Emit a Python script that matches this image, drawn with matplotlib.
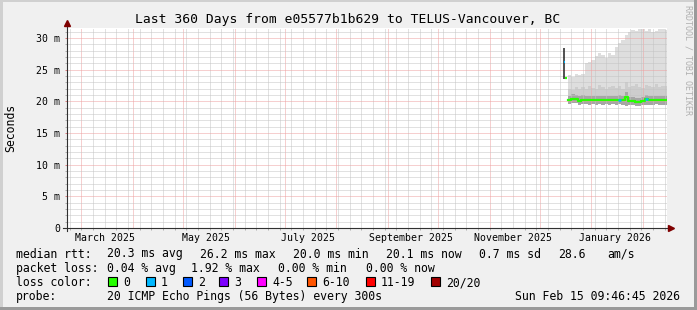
import numpy as np
import pandas as pd
import matplotlib
matplotlib.use("Agg")
import matplotlib.pyplot as plt
from matplotlib.patches import Rectangle
from matplotlib.ticker import MultipleLocator

W, H = 697, 310
MONO = "DejaVu Sans Mono"

# ---- data ----
end_time = np.datetime64("2026-02-15T09:46:45")
start_time = end_time - np.timedelta64(360, "D")

sample_dates = ["2025-12-18", "2025-12-20", "2025-12-22", "2025-12-24", "2025-12-26",
                "2025-12-28", "2025-12-30", "2026-01-01", "2026-01-03", "2026-01-05",
                "2026-01-07", "2026-01-09", "2026-01-11", "2026-01-13", "2026-01-15",
                "2026-01-17", "2026-01-19", "2026-01-21", "2026-01-23", "2026-01-25",
                "2026-01-27", "2026-01-29", "2026-01-31", "2026-02-02", "2026-02-04",
                "2026-02-06", "2026-02-08", "2026-02-10", "2026-02-12", "2026-02-14"]
# rtt in ms
ping_max = [24.2, 23.8, 24.3, 24.1, 24.4, 26.0, 26.3, 26.5, 27.1, 27.6,
            27.3, 26.8, 27.6, 27.4, 28.6, 29.2, 29.7, 30.5, 31.0, 31.3,
            31.1, 31.4, 31.5, 31.2, 31.5, 30.9, 31.2, 31.5, 31.4, 31.3]
band_hi = [22.0, 21.8, 22.2, 21.9, 22.3, 22.0, 22.4, 22.1, 22.0, 22.6,
           22.2, 22.0, 22.3, 22.5, 22.1, 22.4, 22.0, 23.0, 22.2, 22.4,
           22.8, 22.3, 22.1, 22.6, 22.4, 22.2, 22.7, 22.3, 22.5, 22.4]
core_hi = [20.9, 21.1, 21.0, 20.8, 21.0, 20.9, 20.8, 20.9, 20.8, 20.9,
           20.8, 20.9, 20.8, 20.9, 20.8, 21.0, 20.9, 21.5, 20.7, 20.7,
           20.6, 20.6, 20.7, 21.0, 20.9, 20.8, 20.9, 20.8, 20.9, 20.9]
ping_min = [19.6, 19.7, 19.7, 19.5, 19.6, 19.6, 19.5, 19.6, 19.5, 19.6,
            19.5, 19.6, 19.5, 19.6, 19.5, 19.6, 19.5, 19.2, 19.4, 19.4,
            19.3, 19.3, 19.4, 19.5, 19.5, 19.5, 19.6, 19.5, 19.5, 19.5]
median = [20.2, 20.4, 20.4, 20.1, 20.25, 20.2, 20.15, 20.15, 20.15, 20.15,
          20.15, 20.15, 20.15, 20.15, 20.15, 20.3, 20.2, 20.7, 20.0, 20.0,
          19.95, 19.85, 20.0, 20.35, 20.2, 20.2, 20.2, 20.2, 20.2, 20.2]
loss_class = [0] * 15 + [1] + [0] * 7 + [1] + [0] * 6

# the lone early sample
spike_time = "2025-12-15T20:00"
spike_lo, spike_hi = 23.6, 28.4
spike_med_times = [("2025-12-15T12:00", "2025-12-16T04:00"), ("2025-12-16T04:00", "2025-12-17T06:00")]
spike_medians = [26.3, 23.7]
spike_loss = [1, 0]

loss_labels = ["0", "1", "2", "3", "4-5", "6-10", "11-19", "20/20"]
loss_colors = ["#26ff00", "#00b8ff", "#0059ff", "#7e00ff", "#ff00ff", "#ff5500", "#ff0000", "#a10000"]

y_ticks = [0, 5, 10, 15, 20, 25, 30]
y_labels = ["0", "5 m", "10 m", "15 m", "20 m", "25 m", "30 m"]
month_labels = ["March 2025", "May 2025", "July 2025", "September 2025", "November 2025", "January 2026"]
month_label_dates = ["2025-03-15", "2025-05-15", "2025-07-15", "2025-09-15", "2025-11-15", "2026-01-15"]

legend_rows = [
    [(16, "median rtt:"), (107, "20.3 ms avg"), (200, "26.2 ms max"), (293, "20.0 ms min"),
     (386, "20.1 ms now"), (479, "0.7 ms sd"), (558, "28.6"), (607, "am/s")],
    [(16, "packet loss:"), (107, "0.04 % avg"), (191, "1.92 % max"), (278, "0.00 % min"),
     (366, "0.00 % now")],
    [(16, "loss color:")],
    [(16, "probe:"), (107, "20 ICMP Echo Pings (56 Bytes) every 300s")],
]
legend_baselines = [257.5, 271.8, 286.0, 300.0]
box_x = [108, 146, 183, 219, 257, 307, 366, 431]
stamp = "Sun Feb 15 09:46:45 2026"


def fx(x):
    return x / W


def fy(y):
    return 1 - y / H


fig = plt.figure(figsize=(W / 100, H / 100), dpi=100)
fig.patch.set_facecolor("#f0f0f0")

ax = fig.add_axes([fx(67), fy(228), 600 / W, 200 / H])
ax.set_facecolor("white")
for s in ax.spines.values():
    s.set_visible(False)

t = np.array(sample_dates, dtype="datetime64[m]")
t_edges = np.append(t, end_time.astype("datetime64[m]"))


def ext(v):
    return np.append(v, v[-1])


# smoke
ax.fill_between(t_edges, ext(ping_min), ext(ping_max), step="post", color="#dedede", lw=0, zorder=1)
ax.fill_between(t_edges, ext(ping_min), ext(band_hi), step="post", color="#cdcdcd", lw=0, zorder=1.1)
ax.fill_between(t_edges, ext(ping_min), ext(core_hi), step="post", color="#a6a6a6", lw=0, zorder=1.2)

# median, coloured by loss
ax.step(t_edges, ext(median), where="post", color=loss_colors[0], lw=1.6, zorder=4)
for i, lc in enumerate(loss_class):
    if lc:
        ax.hlines(median[i], t_edges[i], t_edges[i + 1], color=loss_colors[lc], lw=1.8, zorder=4.1)

ax.vlines(np.datetime64(spike_time), spike_lo, spike_hi, color="#222222", lw=1.1, zorder=3.5)
for (a, b), m, lc in zip(spike_med_times, spike_medians, spike_loss):
    ax.hlines(m, np.datetime64(a), np.datetime64(b), color=loss_colors[lc], lw=1.6, zorder=4)

ax.set_xlim(start_time, end_time)
ax.set_ylim(0, 31.6)

# grid
grid_kw = dict(lw=0.72, linestyle=(0, (1, 1)))
months = pd.date_range("2025-03-01", "2026-02-01", freq="MS")
weeks = pd.date_range("2025-02-22", "2026-02-14", freq="7D")
for w in weeks:
    if w not in months:
        ax.axvline(w, color="#c4c4c4", zorder=1.5, **grid_kw)
for m in months:
    ax.axvline(m, color="#eea0a0", zorder=1.6, **grid_kw)
ax.set_yticks(y_ticks, y_labels)
ax.yaxis.set_minor_locator(MultipleLocator(1))
ax.grid(axis="y", which="minor", color="#c4c4c4", **grid_kw)
ax.grid(axis="y", which="major", color="#eea0a0", **grid_kw)
ax.set_axisbelow(False)

ax.set_xticks(np.array(month_label_dates, dtype="datetime64[D]"), month_labels)
ax.set_xticks(weeks, minor=True)
ax.tick_params(axis="x", which="major", length=0, pad=9.7, labelsize=7.1)
ax.tick_params(axis="x", which="minor", length=1.5, width=0.72, color="#b0b0b0")
ax.tick_params(axis="y", which="major", length=1.5, width=0.72, color="#e08080", pad=3.6, labelsize=7.1)
ax.tick_params(axis="y", which="minor", length=1.5, width=0.72, color="#b0b0b0")
for lab in ax.get_xticklabels():
    lab.set_fontfamily(MONO)
    lab.set_verticalalignment("baseline")
for lab in ax.get_yticklabels():
    lab.set_fontfamily(MONO)

# axes with arrows
ax.plot([-4 / 600, 602 / 600], [0, 0], transform=ax.transAxes, color="#303030", lw=0.8, clip_on=False, zorder=5)
ax.plot([0, 0], [-3 / 200, 204 / 200], transform=ax.transAxes, color="#303030", lw=0.8, clip_on=False, zorder=5)
ax.plot([0], [205 / 200], marker="^", ms=4, color="#7f0000", transform=ax.transAxes, clip_on=False, zorder=6)
ax.plot([604 / 600], [0], marker=">", ms=4, color="#7f0000", transform=ax.transAxes, clip_on=False, zorder=6)

# texts
fig.text(fx(348), fy(19), "Last 360 Days from e05577b1b629 to TELUS-Vancouver, BC",
         family=MONO, size=9.4, ha="center", va="center")
fig.text(fx(10.5), fy(127.5), "Seconds", family=MONO, size=8.3, rotation=90, ha="center", va="center")
fig.text(fx(688), fy(5), "RRDTOOL / TOBI OETIKER", family=MONO, size=6, rotation=270,
         ha="center", va="top", color="#b0b0b0")

for row, yb in zip(legend_rows, legend_baselines):
    for x, s in row:
        fig.text(fx(x), fy(yb), s, family=MONO, size=8.3, ha="left", va="baseline")
fig.text(fx(680), fy(legend_baselines[3]), stamp, family=MONO, size=8.3, ha="right", va="baseline")

for bx, lab, col in zip(box_x, loss_labels, loss_colors):
    fig.add_artist(Rectangle((fx(bx), fy(286)), 9 / W, 9 / H, transform=fig.transFigure,
                             facecolor=col, edgecolor="black", lw=0.8))
    fig.text(fx(bx + 15), fy(legend_baselines[2]), lab, family=MONO, size=8.3, ha="left", va="baseline")

# 3d-ish frame
fig.add_artist(Rectangle((0, 0), 3 / W, 1, transform=fig.transFigure, color="#d0d0d0", lw=0))
fig.add_artist(Rectangle((0, 1 - 2 / H), 1, 2 / H, transform=fig.transFigure, color="#d0d0d0", lw=0))
fig.add_artist(Rectangle((1 - 3 / W, 0), 3 / W, 1, transform=fig.transFigure, color="#9a9a9a", lw=0))
fig.add_artist(Rectangle((0, 0), 1, 3 / H, transform=fig.transFigure, color="#9a9a9a", lw=0))

fig.savefig("out.png", dpi=100, facecolor=fig.get_facecolor())
